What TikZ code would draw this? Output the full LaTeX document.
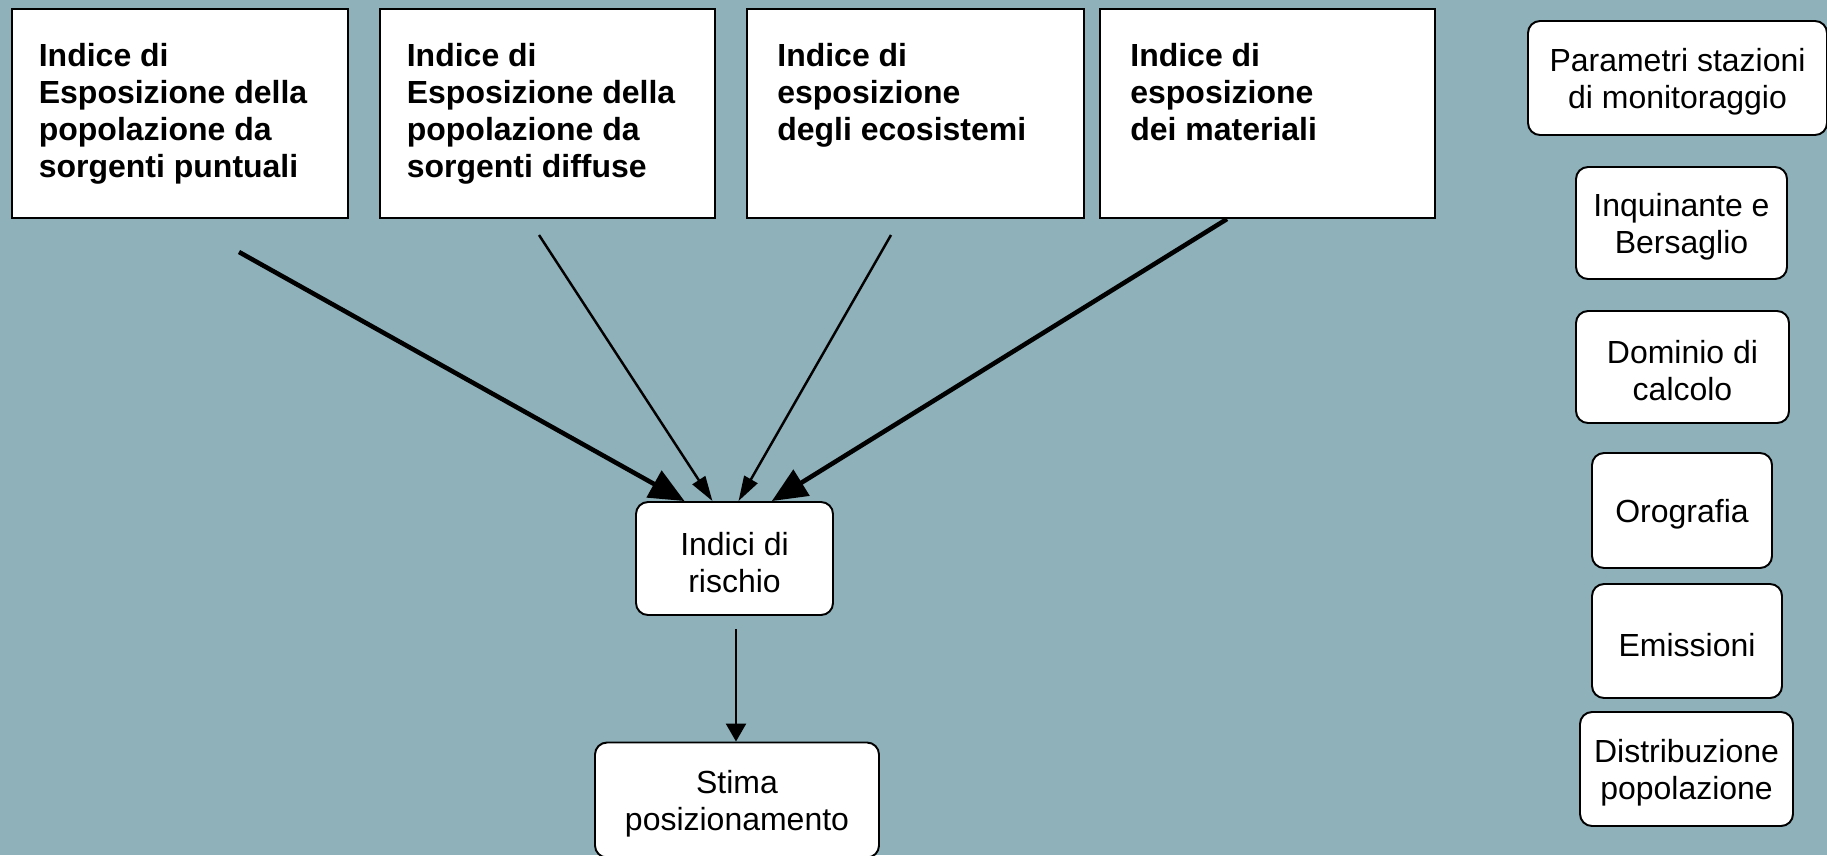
\documentclass[tikz,border=0pt]{standalone}
\usepackage{fontspec}
\setmainfont{Liberation Sans}
\usetikzlibrary{arrows.meta}

\definecolor{sfondo}{RGB}{142,177,186}

\tikzset{
	indice/.style={draw, line width=1.1pt, fill=white, inner sep=0pt},
	testo/.style={anchor=north west, inner sep=0pt, align=left,
		font=\fontsize{18.2}{21}\selectfont\bfseries},
	blocco/.style={draw, line width=1.1pt, fill=white, rounded corners=0.24cm, inner sep=0pt},
	scritta/.style={align=center, inner sep=0pt, yshift=-0.08cm,
		font=\fontsize{18.2}{21}\selectfont},
	grossa/.style={line width=2.6pt, -{Triangle[length=0.7cm, width=0.6cm]}},
	sottile/.style={line width=1.4pt, -{Triangle[length=0.5cm, width=0.3cm]}},
}

\begin{document}
\begin{tikzpicture}[x=0.2mm, y=-0.2mm]
	\fill[sfondo] (0,0) rectangle (1827,855);
	\useasboundingbox (0,0) rectangle (1827,855);

	% indici di esposizione
	\node[indice, minimum width=6.72cm, minimum height=4.18cm] (e1) at (180,113.5) {};
	\node[indice, minimum width=6.70cm, minimum height=4.18cm] (e2) at (547.5,113.5) {};
	\node[indice, minimum width=6.74cm, minimum height=4.18cm] (e3) at (915.5,113.5) {};
	\node[indice, minimum width=6.70cm, minimum height=4.18cm] (e4) at (1267.5,113.5) {};
	\node[testo] (t1) at (38.5,43) {Indice di\\Esposizione della\\popolazione da\\sorgenti puntuali};
	\node[testo] (t2) at (406.5,43) {Indice di\\Esposizione della\\popolazione da\\sorgenti diffuse};
	\node[testo] (t3) at (777,43) {Indice di\\esposizione\\degli ecosistemi};
	\node[testo] (t4) at (1130,43) {Indice di\\esposizione\\dei materiali};

	% rischio e stima
	\node[blocco, minimum width=3.94cm, minimum height=2.26cm,
		label={[scritta]center:{Indici di\\ rischio}}] (r) at (734.5,558.5) {};
	\node[blocco, minimum width=5.68cm, minimum height=2.30cm,
		label={[scritta]center:{Stima\\posizionamento}}] (s) at (737,800) {};

	% colonna di destra
	\node[blocco, minimum width=5.98cm, minimum height=2.28cm,
		label={[scritta]center:{Parametri stazioni\\di monitoraggio}}] (par) at (1677.5,78) {};
	\node[blocco, minimum width=4.22cm, minimum height=2.24cm,
		label={[scritta]center:{Inquinante e\\ Bersaglio}}] (inq) at (1681.5,223) {};
	\node[blocco, minimum width=4.26cm, minimum height=2.24cm,
		label={[scritta]center:{Dominio di\\ calcolo}}] (dom) at (1682.5,367) {};
	\node[blocco, minimum width=3.60cm, minimum height=2.30cm,
		label={[scritta]center:Orografia}] (oro) at (1682,510.5) {};
	\node[blocco, minimum width=3.80cm, minimum height=2.28cm,
		label={[scritta]center:Emissioni}] (emi) at (1687,641) {};
	\node[blocco, minimum width=4.26cm, minimum height=2.28cm,
		label={[scritta]center:{Distribuzione\\popolazione}}] (dis) at (1686.5,769) {};

	% frecce
	\coordinate (a1) at (239,252);
	\coordinate (a2) at (539,235);
	\coordinate (a3) at (891,235);
	\coordinate (a4) at (1227,219);
	\coordinate (a5) at (736,629);
	\draw[grossa] (a1) -- (r.131);
	\draw[sottile] (a2) -- (r.111);
	\draw[sottile] (a3) -- (r.86);
	\draw[grossa] (a4) -- (r.57);
	\draw[line width=1.4pt, -{Triangle[length=0.36cm, width=0.4cm]}] (a5) -- (s.north -| a5);
\end{tikzpicture}
\end{document}
